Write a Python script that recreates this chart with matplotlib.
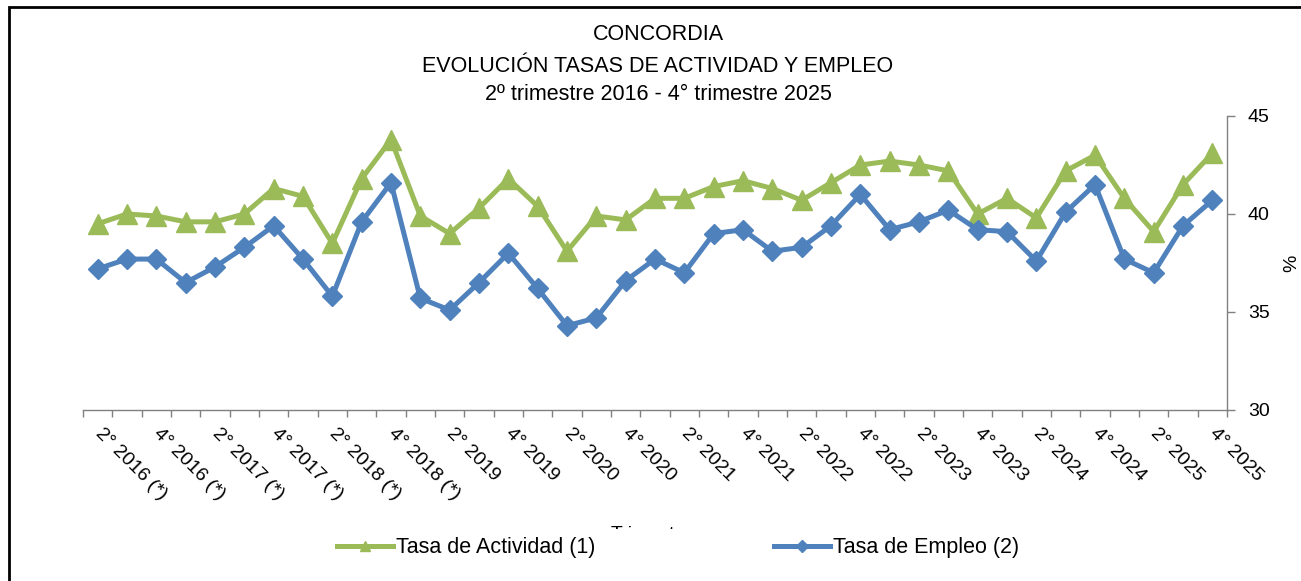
import matplotlib.pyplot as plt
from matplotlib.patches import Rectangle
from matplotlib.ticker import FixedLocator

plt.rcParams['font.family'] = ['Liberation Sans', 'DejaVu Sans']

#%% data

trimestres = []
for anio in range(2016, 2026):
    for q in range(1, 5):
        if anio == 2016 and q == 1:
            continue
        lab = f"{q}° {anio}"
        if anio <= 2018:
            lab += " (*)"
        trimestres.append(lab)

actividad = [39.5, 40.0, 39.9, 39.6, 39.6, 40.0, 41.3, 40.9, 38.5, 41.8,
             43.8, 39.9, 39.0, 40.3, 41.8, 40.4, 38.1, 39.9, 39.7, 40.8,
             40.8, 41.4, 41.7, 41.3, 40.7, 41.6, 42.5, 42.7, 42.5, 42.2,
             40.0, 40.8, 39.8, 42.2, 43.0, 40.8, 39.1, 41.5, 43.1]

empleo = [37.2, 37.7, 37.7, 36.5, 37.3, 38.3, 39.4, 37.7, 35.8, 39.6,
          41.6, 35.7, 35.1, 36.5, 38.0, 36.2, 34.3, 34.7, 36.6, 37.7,
          37.0, 39.0, 39.2, 38.1, 38.3, 39.4, 41.0, 39.2, 39.6, 40.2,
          39.2, 39.1, 37.6, 40.1, 41.5, 37.7, 37.0, 39.4, 40.7]

verde = "#9BBB59"
azul = "#4F81BD"
gris = "#808080"

W, H = 1301, 581

#%% figure

fig = plt.figure(figsize=(W / 100, H / 100), dpi=100)
ax = fig.add_axes([83 / W, 1 - 410 / H, (1227 - 83) / W, (410 - 116) / H])

x = list(range(len(trimestres)))
ax.plot(x, actividad, color=verde, lw=3.6, marker="^", ms=14,
        label="Tasa de Actividad (1)")
ax.plot(x, empleo, color=azul, lw=3.6, marker="D", ms=10.5,
        label="Tasa de Empleo (2)")

ax.set_xlim(-0.5, len(trimestres) - 0.5)
ax.set_ylim(30, 45)
ax.set_yticks([30, 35, 40, 45])

# y axis on the right
ax.yaxis.tick_right()
ax.yaxis.set_label_position("right")
ax.set_ylabel("%", fontsize=14, rotation=90, labelpad=10)
ax.tick_params(axis="y", direction="out", length=6, width=1, color=gris,
               labelsize=14, pad=9)

# x axis: ticks between categories, labels every second quarter
ax.set_xticks(x[::2])
ax.set_xticklabels(trimestres[::2], rotation=-45, ha="left", va="center",
                   rotation_mode="anchor", fontsize=14)
ax.tick_params(axis="x", which="major", length=0, pad=15)
ax.xaxis.set_minor_locator(FixedLocator([i - 0.5 for i in range(len(trimestres) + 1)]))
ax.tick_params(axis="x", which="minor", direction="out", length=5, width=1, color=gris)

for s in ["left", "top"]:
    ax.spines[s].set_visible(False)
for s in ["bottom", "right"]:
    ax.spines[s].set_color(gris)
    ax.spines[s].set_linewidth(1)

# titles
fig.text(658 / W, 1 - 35 / H, "CONCORDIA", ha="center", va="center", fontsize=15.5)
fig.text(658 / W, 1 - 66 / H, "EVOLUCIÓN TASAS DE ACTIVIDAD Y EMPLEO",
         ha="center", va="center", fontsize=15.5)
fig.text(658 / W, 1 - 94 / H, "2º trimestre 2016 - 4° trimestre 2025",
         ha="center", va="center", fontsize=15.5)

# axis title, mostly hidden behind the legend as in the original
fig.text(652 / W, 1 - 526 / H, "Trimestre", ha="center", va="top", fontsize=14)

handles, labels = ax.get_legend_handles_labels()
leg = fig.legend(handles, labels, loc="center", bbox_to_anchor=(678 / W, 1 - 548 / H),
                 ncol=2, frameon=True, facecolor="white", edgecolor="none",
                 framealpha=1, fontsize=15.5, handlelength=2.6, handletextpad=0.15,
                 columnspacing=8.3, numpoints=1, markerscale=0.55, borderpad=0.4)
leg.set_zorder(10)

# outer border (only top and left edges inside the image)
fig.patches.append(Rectangle((8.5 / W, -0.1), 1.2, 1.1 - 7 / H, transform=fig.transFigure,
                             fill=False, edgecolor="black", lw=2))

fig.savefig("out.png", dpi=100)
